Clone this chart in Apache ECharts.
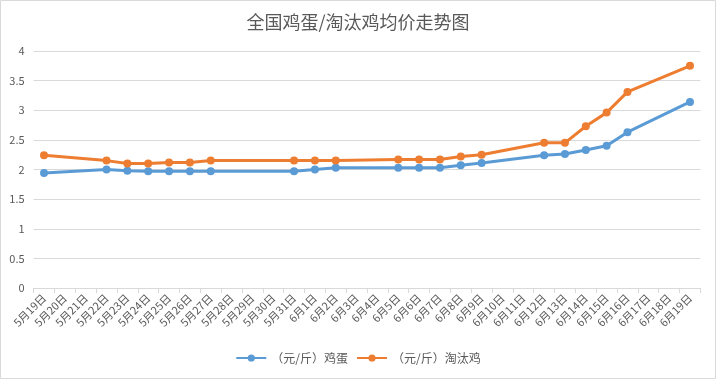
<!DOCTYPE html>
<html><head><meta charset="utf-8">
<script src="https://cdn.jsdelivr.net/npm/echarts@6/dist/echarts.min.js"></script>
<style>html,body{margin:0;padding:0;background:#fff}#c{width:716px;height:379px}</style>
</head><body><div id="c"></div>
<script>
const categories = ['5月19日','5月20日','5月21日','5月22日','5月23日','5月24日','5月25日','5月26日','5月27日','5月28日','5月29日','5月30日','5月31日','6月1日','6月2日','6月3日','6月4日','6月5日','6月6日','6月7日','6月8日','6月9日','6月10日','6月11日','6月12日','6月13日','6月14日','6月15日','6月16日','6月17日','6月18日','6月19日'];
const eggPrice = [1.94,null,null,2.00,1.98,1.97,1.97,1.97,1.97,null,null,null,1.97,2.00,2.03,null,null,2.03,2.03,2.03,2.07,2.11,null,null,2.24,2.26,2.33,2.40,2.63,null,null,3.14];
const henPrice = [2.24,null,null,2.15,2.10,2.10,2.12,2.12,2.15,null,null,null,2.15,2.15,2.15,null,null,2.17,2.17,2.17,2.22,2.25,null,null,2.45,2.45,2.73,2.96,3.31,null,null,3.75];
const seriesNames = ['（元/斤）鸡蛋','（元/斤）淘汰鸡'];
const yTicks = [0,0.5,1,1.5,2,2.5,3,3.5,4];

const font = '"Noto Sans CJK SC","Noto Sans",sans-serif';
const chart = echarts.init(document.getElementById('c'));
chart.setOption({
  animation:false,
  textStyle:{fontFamily:font},
  title:{text:'全国鸡蛋/淘汰鸡均价走势图',left:'center',top:8,textStyle:{fontSize:18,fontWeight:'normal',color:'#595959',fontFamily:font}},
  graphic:[{type:'rect',shape:{x:0.5,y:0.5,width:715,height:378},style:{fill:'none',stroke:'#d9d9d9',lineWidth:1},silent:true}],
  legend:{bottom:10,left:'center',itemWidth:30,itemHeight:9,itemGap:8,textStyle:{fontSize:12,color:'#595959'},data:seriesNames},
  grid:{left:33.6,right:15.6,top:51,bottom:91,containLabel:false},
  xAxis:{type:'category',data:categories,boundaryGap:true,
    axisLine:{lineStyle:{color:'#d9d9d9'}},
    axisTick:{show:true,length:5,lineStyle:{color:'#d9d9d9'},interval:0},
    axisLabel:{rotate:45,interval:0,fontSize:11,color:'#595959',margin:8}},
  yAxis:{type:'value',min:yTicks[0],max:yTicks[yTicks.length-1],interval:0.5,
    axisLine:{show:false},axisTick:{show:false},
    splitLine:{lineStyle:{color:'#d9d9d9'}},
    axisLabel:{fontSize:11,color:'#595959',margin:9}},
  series:[
    {name:seriesNames[0],type:'line',data:eggPrice,connectNulls:true,symbol:'circle',symbolSize:8,
     itemStyle:{color:'#5B9BD5'},lineStyle:{width:3,color:'#5B9BD5'}},
    {name:seriesNames[1],type:'line',data:henPrice,connectNulls:true,symbol:'circle',symbolSize:8,
     itemStyle:{color:'#ED7D31'},lineStyle:{width:3,color:'#ED7D31'}}
  ]
});
</script></body></html>
